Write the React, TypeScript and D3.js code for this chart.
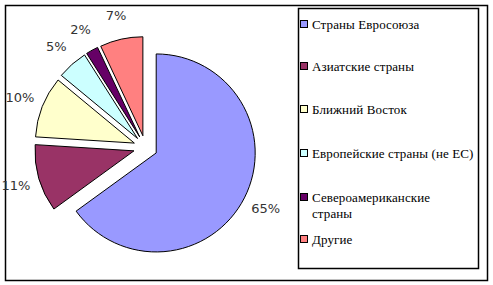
import React from "react";
import * as d3 from "d3";

const categories = [
  "Страны Евросоюза",
  "Азиатские страны",
  "Ближний Восток",
  "Европейские страны (не ЕС)",
  "Североамериканские страны",
  "Другие",
];
const values = [65, 11, 10, 5, 2, 7];
const percentLabels = ["65%", "11%", "10%", "5%", "2%", "7%"];
const colors = ["#9999FF", "#993366", "#FFFFCC", "#CCFFFF", "#660066", "#FF8080"];
const legendLines = [
  ["Страны Евросоюза"],
  ["Азиатские страны"],
  ["Ближний Восток"],
  ["Европейские страны (не ЕС)"],
  ["Североамериканские", "страны"],
  ["Другие"],
];

export default function App() {
  const W = 493, H = 285;
  const cx = 145.5, cy = 147.5, r = 99, explode = 12;
  const pie = d3.pie<number>().sort(null).value((d) => d);
  const arcs = pie(values);
  const arc = d3.arc<d3.PieArcDatum<number>>().innerRadius(0).outerRadius(r);
  const labelArc = d3.arc<d3.PieArcDatum<number>>().innerRadius(r + 24).outerRadius(r + 24);
  const legendY = [24, 66, 109, 153, 197, 239];

  return (
    <svg width={W} height={H} style={{ position: "absolute", left: 0, top: 0 }}>
      <rect x={0} y={0} width={W} height={H} fill="#fff" />
      <rect x={5.5} y={5.5} width={482} height={275} fill="none" stroke="#000" strokeWidth={1.5} />
      {arcs.map((a, i) => {
        const mid = (a.startAngle + a.endAngle) / 2;
        const dx = Math.sin(mid) * explode;
        const dy = -Math.cos(mid) * explode;
        return (
          <path
            key={i}
            d={arc(a) || ""}
            transform={`translate(${cx + dx},${cy + dy})`}
            fill={colors[i]}
            stroke="#000"
            strokeWidth={1}
          />
        );
      })}
      {arcs.map((a, i) => {
        const mid = (a.startAngle + a.endAngle) / 2;
        const [lx, ly] = labelArc.centroid(a);
        const dx = Math.sin(mid) * explode;
        const dy = -Math.cos(mid) * explode;
        return (
          <text
            key={i}
            x={cx + dx + lx}
            y={cy + dy + ly}
            textAnchor="middle"
            dominantBaseline="central"
            fontFamily="DejaVu Sans, Verdana, sans-serif"
            fontSize={13}
            fill="#333"
          >
            {percentLabels[i]}
          </text>
        );
      })}
      <rect x={298.5} y={8.5} width={180} height={260} fill="#fff" stroke="#000" strokeWidth={1.5} />
      {categories.map((c, i) => (
        <g key={c}>
          <rect x={300.5} y={legendY[i] - 3.5} width={7} height={7} fill={colors[i]} stroke="#000" strokeWidth={1} />
          {legendLines[i].map((line, j) => (
            <text
              key={j}
              x={312}
              y={legendY[i] + j * 16}
              dominantBaseline="central"
              fontFamily="Liberation Serif, Times New Roman, serif"
              fontSize={13}
              letterSpacing={0.1}
              fill="#000"
            >
              {line}
            </text>
          ))}
        </g>
      ))}
    </svg>
  );
}
